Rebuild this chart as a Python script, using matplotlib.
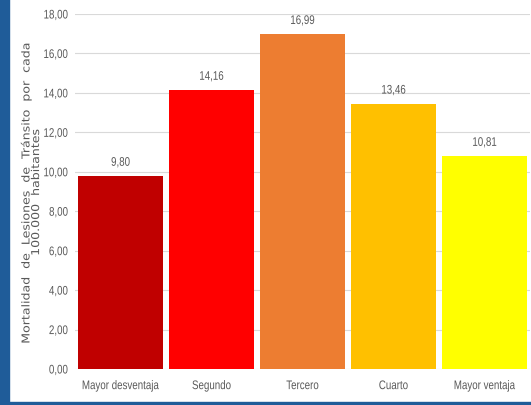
import matplotlib

matplotlib.use('Agg')
import matplotlib.pyplot as plt
from matplotlib.patches import Rectangle
from matplotlib.path import Path
from matplotlib.patheffects import AbstractPathEffect
from matplotlib.ticker import FuncFormatter
from matplotlib.transforms import Affine2D

categories = ['Mayor desventaja', 'Segundo', 'Tercero', 'Cuarto', 'Mayor ventaja']
values = [9.80, 14.16, 16.99, 13.46, 10.81]
bar_colors = ['#C00000', '#FF0000', '#ED7D31', '#FFC000', '#FFFF00']
y_ticks = [0, 2, 4, 6, 8, 10, 12, 14, 16, 18]
y_label = 'Mortalidad  de  Lesiones  de  Tránsito  por  cada\n100.000  habitantes'

TEXT_GRAY = '#595959'
FONT = 'Liberation Sans'


class Narrow(AbstractPathEffect):
    """Scale text glyphs horizontally, keeping the given anchor in place."""

    def __init__(self, sx=0.8, anchor='center'):
        super().__init__()
        self.sx = sx
        self.anchor = anchor

    def draw_path(self, renderer, gc, tpath, affine, rgbFace=None):
        verts = tpath.vertices
        if tpath.codes is not None:
            verts = verts[tpath.codes != Path.CLOSEPOLY]
        if len(verts):
            xs = verts[:, 0]
            x0 = xs.max() if self.anchor == 'right' else (xs.min() + xs.max()) / 2
        else:
            x0 = 0
        squeeze = Affine2D().translate(-x0, 0).scale(self.sx, 1).translate(x0, 0)
        renderer.draw_path(gc, tpath, squeeze + affine, rgbFace)


def comma(v, _pos=None):
    return f'{v:.2f}'.replace('.', ',')


fig = plt.figure(figsize=(5.31, 4.06), dpi=100)
W, H = 531, 406
ax = fig.add_axes([75 / W, 36 / H, 455 / W, 355 / H])

x = range(len(categories))
ax.bar(x, values, width=0.945, color=bar_colors, zorder=2)

for xi, v in zip(x, values):
    ax.annotate(comma(v), (xi, v), xytext=(0, 5), textcoords='offset points',
                ha='center', va='bottom', fontsize=9, color=TEXT_GRAY, family=FONT,
                path_effects=[Narrow(0.78)])

ax.set_xlim(-0.5, len(categories) - 0.5)
ax.set_ylim(0, 18)
ax.set_yticks(y_ticks)
ax.yaxis.set_major_formatter(FuncFormatter(comma))
ax.set_xticks(list(x))
ax.set_xticklabels(categories)
for lbl in ax.get_xticklabels():
    lbl.set(family=FONT, fontsize=9, color=TEXT_GRAY, path_effects=[Narrow(0.78)])
for lbl in ax.get_yticklabels():
    lbl.set(family=FONT, fontsize=9, color=TEXT_GRAY,
            path_effects=[Narrow(0.78, anchor='right')])
ax.tick_params(axis='both', length=0)
ax.tick_params(axis='x', pad=8)
ax.tick_params(axis='y', pad=5)
ax.grid(axis='y', color='#D9D9D9', linewidth=0.8, zorder=0)
for side in ax.spines.values():
    side.set_visible(False)

# widely spaced axis title, stretched a little along the line
fig.text(31 / W, 213 / H, y_label, rotation=90, ha='center', va='center',
         fontsize=7.8, color=TEXT_GRAY, linespacing=0.95, family='DejaVu Sans',
         path_effects=[Narrow(1.16)])

# blue frame on the left and bottom edges
fig.patches.append(Rectangle((0, 0), 9 / W, 1, transform=fig.transFigure,
                             color='#1F5C99', zorder=5))
fig.patches.append(Rectangle((0, 0), 1, 3 / H, transform=fig.transFigure,
                             color='#1F5C99', zorder=5))

fig.savefig('out.png', dpi=100)
